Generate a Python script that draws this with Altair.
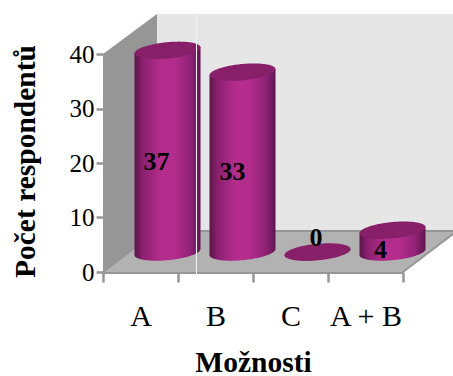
import altair as alt
import numpy as np
import pandas as pd

categories = ["A", "B", "C", "A + B"]
counts = [37, 33, 0, 4]
y_ticks = [0, 10, 20, 30, 40]

# Chart frame in pixels
PLOT_W, PLOT_H = 350, 272
PX_PER_COUNT = 5.45
PX_PER_SLOT = 75
Y_MAX = PLOT_H / PX_PER_COUNT
X_MAX = PLOT_W / PX_PER_SLOT

# 3D box: floor depth, expressed in axis units
DEPTH_X = 54 / PX_PER_SLOT
DEPTH_Y = 41 / PX_PER_COUNT
WALL_TOP = 40 + 40 / PX_PER_COUNT
FLOOR_W = 4

# Cylinder geometry, axis units
CYL_CENTER = 0.86
CYL_RADIUS = 33 / PX_PER_SLOT
CYL_BASE = 20 / PX_PER_COUNT
CAP_B = 8.2 / PX_PER_COUNT
CAP_TILT = 3.0 / PX_PER_COUNT

# Where each value label sits relative to its cylinder (slot units, counts)
label_dx = [-0.147, -0.133, -0.02, -0.16]
label_y = [20.2, 18.4, 6.2, 4.0]

x_q = alt.X("x:Q", axis=None, scale=alt.Scale(domain=[0, X_MAX], range=[0, PLOT_W], nice=False, zero=False))
y_q = alt.Y(
    "y:Q",
    scale=alt.Scale(domain=[0, Y_MAX], nice=False, zero=False),
    axis=alt.Axis(
        values=y_ticks, domain=False, grid=False, tickColor="#969696", tickWidth=2.5, tickSize=7,
        labelFont="Liberation Serif", labelFontSize=25, labelColor="black", labelPadding=2,
        title="Počet respondentů", titleFont="Liberation Serif", titleFontSize=29.5, titleFontWeight="bold",
        titleColor="black", titleAngle=-90, titleX=-78, titleY=161, titleAlign="center", titleBaseline="middle",
    ),
)
y2_q = alt.Y2("y2:Q")

GRAY_LINE = "#969696"

# Side wall, back wall and floor of the box
side = pd.DataFrame({"x": [0, DEPTH_X], "y": [40, WALL_TOP], "y2": [0, DEPTH_Y]})
back = pd.DataFrame({"x": [DEPTH_X, X_MAX], "y": [WALL_TOP, WALL_TOP], "y2": [DEPTH_Y, DEPTH_Y]})
floor = pd.DataFrame({
    "x": [0, DEPTH_X, FLOOR_W, FLOOR_W + DEPTH_X],
    "y": [0, DEPTH_Y, DEPTH_Y, DEPTH_Y],
    "y2": [0, 0, 0, DEPTH_Y],
})
floor_edge = pd.DataFrame({
    "x": [0, DEPTH_X, FLOOR_W + DEPTH_X, FLOOR_W],
    "y": [0, DEPTH_Y, DEPTH_Y, 0],
    "o": [0, 1, 2, 3],
})

side_layer = alt.Chart(side).mark_area(color=GRAY_LINE).encode(x=x_q, y=y_q, y2=y2_q)
back_layer = alt.Chart(back).mark_area(color="#e6e6e6").encode(x=x_q, y=y_q, y2=y2_q)
floor_layer = alt.Chart(floor).mark_area(color="#b2b2b2").encode(x=x_q, y=y_q, y2=y2_q)
edge_layer = alt.Chart(floor_edge).mark_line(color=GRAY_LINE, strokeWidth=2).encode(
    x=x_q, y=y_q, order="o:Q"
)

# Band scale that carries the category axis
cat_layer = alt.Chart(pd.DataFrame({"c": categories})).mark_bar(opacity=0).encode(
    x=alt.X(
        "c:N", sort=categories,
        scale=alt.Scale(domain=categories, range=[0, 4 * PX_PER_SLOT], paddingInner=0, paddingOuter=0),
        axis=alt.Axis(
            tickBand="extent", labelAngle=0, domainColor=GRAY_LINE, domainWidth=3, tickColor=GRAY_LINE,
            tickWidth=2.5, tickSize=10, grid=False, labelFont="Liberation Serif", labelFontSize=30,
            labelColor="black", labelPadding=19,
            title="Možnosti", titleFont="Liberation Serif", titleFontSize=29.5, titleFontWeight="bold",
            titleColor="black", titleX=150, titleY=90, titleAlign="center", titleBaseline="middle",
        ),
    ),
    y=alt.value(0), y2=alt.value(1),
)

# Outline samples of the cylinders, from each count
t = -np.cos(np.linspace(0, np.pi, 90))
bodies, caps = [], []
for i, (cat, n) in enumerate(zip(categories, counts)):
    cx = i + CYL_CENTER
    xs = cx + CYL_RADIUS * t
    arc = CAP_B * np.sqrt(np.clip(1 - t ** 2, 0, 1))
    slope = CAP_TILT * t
    top = CYL_BASE + n + slope
    bottom = CYL_BASE + slope - arc
    bodies.append(pd.DataFrame({"x": xs, "y": top, "y2": bottom, "c": cat}))
    caps.append(pd.DataFrame({"x": xs, "y": top + arc, "y2": top - arc, "c": cat}))
bodies = pd.concat(bodies)
caps = pd.concat(caps)

shade = alt.LinearGradient(
    gradient="linear", x1=0, x2=1, y1=0, y2=0,
    stops=[
        alt.GradientStop(offset=0, color="#5a1448"),
        alt.GradientStop(offset=0.12, color="#8a2070"),
        alt.GradientStop(offset=0.4, color="#b42d8c"),
        alt.GradientStop(offset=0.6, color="#b42d8c"),
        alt.GradientStop(offset=0.85, color="#8f2274"),
        alt.GradientStop(offset=1, color="#5e1650"),
    ],
)
body_layer = alt.Chart(bodies).mark_area(color=shade).encode(x=x_q, y=y_q, y2=y2_q, detail="c:N")
cap_layer = alt.Chart(caps).mark_area(color="#872068").encode(x=x_q, y=y_q, y2=y2_q, detail="c:N")

labels = pd.DataFrame({
    "x": [i + CYL_CENTER + d for i, d in enumerate(label_dx)],
    "y": label_y,
    "t": [str(n) for n in counts],
})
label_layer = alt.Chart(labels).mark_text(
    font="Liberation Serif", fontSize=26, fontWeight="bold", color="black", baseline="middle"
).encode(x=x_q, y=y_q, text="t:N")

# Thin light seam running through the box
seam = alt.Chart(pd.DataFrame({"x": [93.5 / PX_PER_SLOT], "y": [WALL_TOP], "y2": [-0.4]})).mark_rule(
    color="#f4f4f4", strokeWidth=1
).encode(x=x_q, y=y_q, y2=y2_q)

chart = alt.layer(
    cat_layer, back_layer, side_layer, floor_layer, edge_layer, body_layer, cap_layer, seam, label_layer
).resolve_scale(x="independent").properties(
    width=PLOT_W, height=PLOT_H,
    padding={"left": 103, "top": 0, "right": 0, "bottom": 104},
    autosize=alt.AutoSizeParams(type="none"),
    background="white",
).configure_view(stroke=None)

chart.save("out.html", embed_options={"renderer": "svg", "actions": False})
